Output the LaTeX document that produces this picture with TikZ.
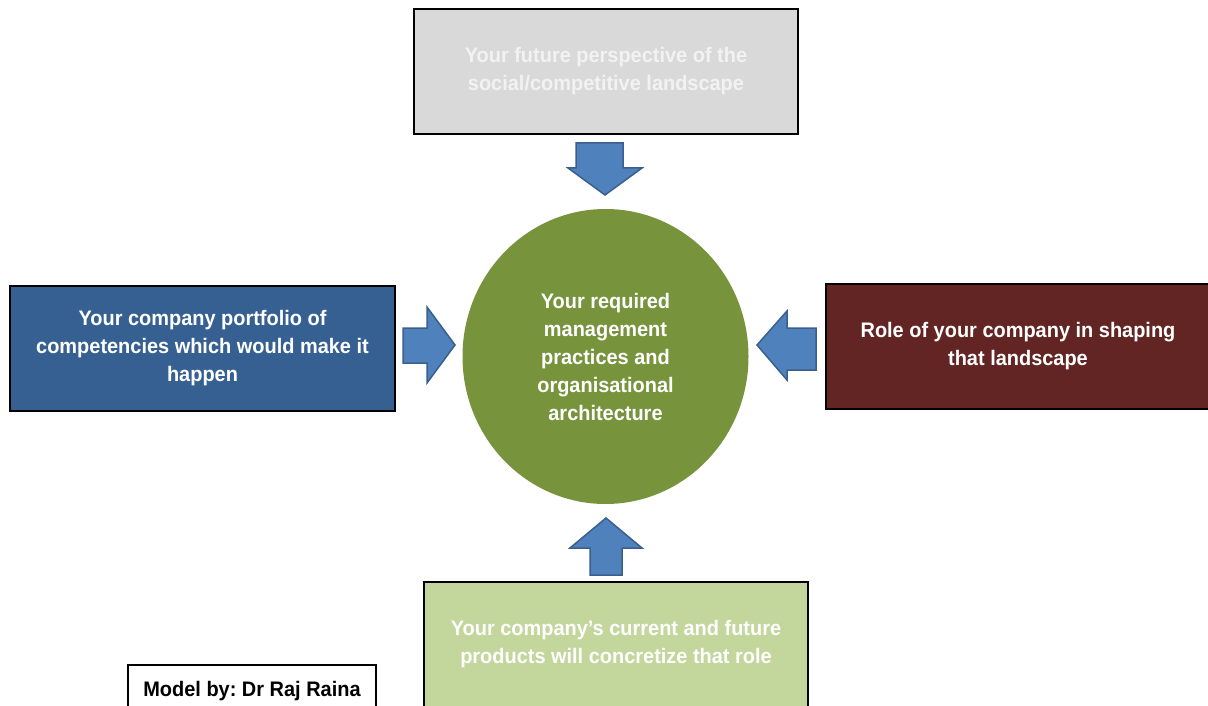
\documentclass[tikz,border=0pt]{standalone}
\usepackage{fontspec}
\setmainfont{Liberation Sans}[FakeStretch=0.95]
\usetikzlibrary{arrows,shapes.geometric}

\definecolor{greybox}{HTML}{D9D9D9}
\definecolor{bluebox}{HTML}{366092}
\definecolor{redbox}{HTML}{632523}
\definecolor{greenbox}{HTML}{C3D69B}
\definecolor{hub}{HTML}{77933C}
\definecolor{arrowfill}{HTML}{4F81BD}
\definecolor{arrowline}{HTML}{3A5F8C}

\tikzset{
  box/.style={draw=black, line width=2pt, minimum width=384pt, minimum height=125pt,
    align=center, text=white, font=\fontsize{21}{28}\selectfont\bfseries},
  blockarrow/.style={fill=arrowfill, draw=arrowline, line width=1.5pt, line join=miter}
}

\begin{document}
\frenchspacing
\begin{tikzpicture}[x=1pt,y=-1pt]
      \useasboundingbox (0,0) rectangle (1208,706);
      \node[box, fill=greybox, text=white!95!black] (future) at (606,71.5)
        {Your future perspective of the\\social/competitive landscape};
      \node[box, fill=bluebox, minimum width=385pt] (portfolio) at (202.5,348.5)
        {Your company portfolio of\\competencies which would make it\\happen};
      \node[box, fill=redbox, minimum width=384pt] (role) at (1018,346.5)
        {Role of your company in shaping\\that landscape};
      \node[box, fill=greenbox] (products) at (616,644)
        {Your company's current and future\\products will concretize that role};
      \node[ellipse, fill=hub, minimum width=286pt, minimum height=295pt, align=center,
        text=white, font=\fontsize{21}{28}\selectfont\bfseries] (practices) at (605.5,356.5)
        {Your required\\management\\practices and\\organisational\\architecture};
      \node[draw=black, line width=2pt, fill=white, minimum width=248pt, minimum height=52pt,
        font=\fontsize{21}{24}\selectfont\bfseries] (model) at (252,691) {Model by: Dr Raj Raina};
      % block arrows into the hub
      \filldraw[blockarrow] (576,143) -- (623,143) -- (623,168) -- (642,168) -- (605,195)
        -- (568,168) -- (576,168) -- cycle;
      \filldraw[blockarrow] (403,328) -- (427,328) -- (427,307) -- (455,345) -- (427,383)
        -- (427,363) -- (403,363) -- cycle;
      \filldraw[blockarrow] (816,328) -- (787,328) -- (787,311) -- (757,345) -- (787,380)
        -- (787,370) -- (816,370) -- cycle;
      \filldraw[blockarrow] (590,575) -- (590,548) -- (570,548) -- (606,518) -- (642,548)
        -- (622,548) -- (622,575) -- cycle;
\end{tikzpicture}
\end{document}
